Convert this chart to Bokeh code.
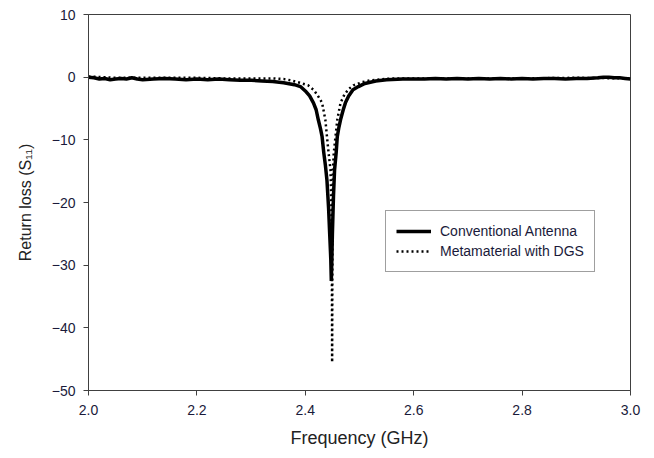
from bokeh.plotting import figure
from bokeh.models import Legend, LegendItem, FixedTicker, NumeralTickFormatter
from bokeh.embed import file_html
from bokeh.resources import INLINE

# Conventional antenna
conv_f = [2.000, 2.010, 2.020, 2.030, 2.040, 2.050, 2.060, 2.070, 2.080, 2.090, 2.100,
          2.120, 2.140, 2.160, 2.180, 2.200, 2.220, 2.240, 2.260, 2.280, 2.300, 2.320,
          2.340, 2.360, 2.380, 2.391, 2.400, 2.408, 2.415, 2.420, 2.424, 2.428, 2.431,
          2.434, 2.437, 2.440, 2.443, 2.445, 2.447, 2.448, 2.449, 2.450, 2.452, 2.454,
          2.457, 2.459, 2.462, 2.465, 2.470, 2.474, 2.480, 2.488, 2.498, 2.510, 2.530,
          2.550, 2.580, 2.600, 2.620, 2.640, 2.660, 2.680, 2.700, 2.720, 2.740, 2.760,
          2.780, 2.800, 2.820, 2.840, 2.860, 2.880, 2.900, 2.920, 2.940, 2.950, 2.960,
          2.970, 2.980, 2.990, 3.000]
conv_s = [0.0, -0.1, -0.3, -0.2, -0.4, -0.3, -0.2, -0.3, -0.1, -0.3, -0.4,
          -0.3, -0.2, -0.3, -0.4, -0.3, -0.4, -0.3, -0.4, -0.5, -0.5, -0.6,
          -0.7, -0.9, -1.2, -1.5, -2.2, -3.0, -4.1, -5.2, -6.8, -8.2, -9.5,
          -12.0, -14.0, -16.5, -21.0, -25.0, -29.0, -32.5, -29.0, -25.0, -19.0, -14.8,
          -12.0, -9.5, -8.0, -6.8, -5.2, -4.1, -3.0, -2.0, -1.5, -1.0, -0.6,
          -0.4, -0.3, -0.3, -0.3, -0.2, -0.3, -0.2, -0.3, -0.2, -0.3, -0.2,
          -0.3, -0.2, -0.3, -0.2, -0.2, -0.3, -0.2, -0.2, -0.1, 0.0, 0.0,
          -0.1, -0.1, -0.2, -0.3]

# Metamaterial with DGS
meta_f = [2.000, 2.050, 2.100, 2.150, 2.200, 2.250, 2.300, 2.340, 2.360, 2.373, 2.390,
          2.405, 2.415, 2.422, 2.427, 2.431, 2.437, 2.440, 2.443, 2.4465, 2.448, 2.449,
          2.4495, 2.450, 2.4505, 2.451, 2.4525, 2.4557, 2.459, 2.465, 2.472, 2.480, 2.489,
          2.505, 2.520, 2.560, 2.600, 2.700, 2.800, 2.900, 3.000]
meta_s = [0.1, -0.1, -0.1, -0.1, -0.1, -0.2, -0.2, -0.2, -0.3, -0.5, -0.9,
          -1.3, -2.0, -2.8, -3.5, -4.1, -6.8, -9.5, -12.1, -14.8, -20.0, -30.0,
          -45.5, -30.0, -20.0, -14.8, -12.1, -9.5, -6.8, -4.1, -2.8, -1.9, -1.3,
          -0.8, -0.5, -0.2, -0.2, -0.2, -0.2, -0.1, -0.2]

x_ticks = [2.0, 2.2, 2.4, 2.6, 2.8, 3.0]
y_ticks = [-50, -40, -30, -20, -10, 0, 10]

FONT = "Liberation Sans"
AX = "#404040"
TXT = "#1a1a3a"

p = figure(width=650, height=450, x_range=(2.0, 3.0), y_range=(-50, 10),
           output_backend="svg", toolbar_location=None,
           min_border_left=88, min_border_right=20, min_border_top=14, min_border_bottom=58)
p.xgrid.visible = False
p.ygrid.visible = False
p.outline_line_color = AX
p.outline_line_width = 1
p.background_fill_color = "white"
p.border_fill_color = "white"

for ax in (p.xaxis[0], p.yaxis[0]):
    ax.axis_line_color = AX
    ax.major_tick_line_color = AX
    ax.major_tick_out = 5
    ax.major_tick_in = 0
    ax.minor_tick_line_color = None
    ax.major_label_text_font = FONT
    ax.major_label_text_font_size = "14px"
    ax.major_label_text_color = TXT
    ax.axis_label_text_font = FONT
    ax.axis_label_text_font_style = "normal"
    ax.axis_label_text_color = "#222222"

p.xaxis.axis_label_text_font_size = "18px"
p.yaxis.axis_label_text_font_size = "16px"
p.xaxis.ticker = FixedTicker(ticks=x_ticks)
p.xaxis.formatter = NumeralTickFormatter(format="0.0")
p.yaxis.ticker = FixedTicker(ticks=y_ticks)
p.xaxis.major_label_standoff = 9
p.yaxis.major_label_standoff = 8
p.xaxis.axis_label = "Frequency (GHz)"
p.yaxis.axis_label = "Return loss (S\u2081\u2081)"
p.xaxis.axis_label_standoff = 10
p.yaxis.axis_label_standoff = 15

r1 = p.line(conv_f, conv_s, line_color="black", line_width=3.5)
r2 = p.line(meta_f, meta_s, line_color="black", line_width=2.5, line_dash="2 3")

legend = Legend(items=[LegendItem(label="Conventional Antenna", renderers=[r1]),
                       LegendItem(label="Metamaterial with DGS", renderers=[r2])],
                location=(297, 118))
legend.label_text_font = FONT
legend.label_text_font_size = "14px"
legend.label_text_color = TXT
legend.border_line_color = AX
legend.border_line_width = 1
legend.glyph_width = 35
legend.glyph_height = 20
legend.label_height = 20
legend.spacing = 0
legend.padding = 10
legend.margin = 0
legend.label_standoff = 9
p.add_layout(legend, "center")

open("out.html", "w").write(file_html(p, INLINE))
